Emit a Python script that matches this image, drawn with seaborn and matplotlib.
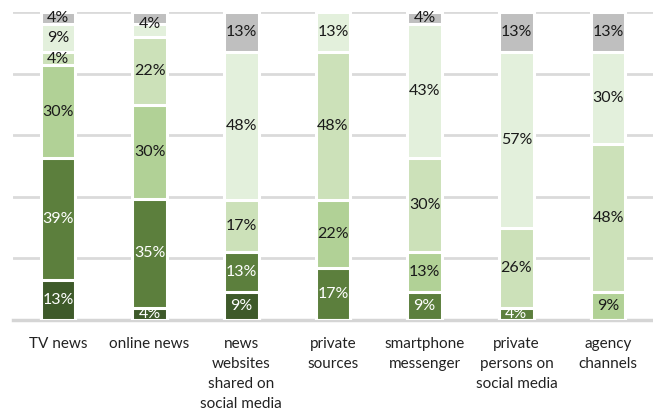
import matplotlib
matplotlib.use("Agg")
import matplotlib.pyplot as plt
import seaborn as sns
import pandas as pd
import numpy as np

categories = ["TV news", "online news", "news\nwebsites\nshared on\nsocial media",
              "private\nsources", "smartphone\nmessenger", "private\npersons on\nsocial media",
              "agency\nchannels"]
levels = ["level1", "level2", "level3", "level4", "level5", "no answer"]
level1 = [13, 4, 9, 0, 0, 0, 0]
level2 = [39, 35, 13, 17, 9, 4, 0]
level3 = [30, 30, 0, 22, 13, 0, 9]
level4 = [4, 22, 17, 48, 30, 26, 48]
level5 = [9, 4, 48, 13, 43, 57, 30]
no_answer = [4, 4, 13, 0, 4, 13, 13]
series = [level1, level2, level3, level4, level5, no_answer]
colors = ["#3e5a2a", "#5c7f3d", "#b1d196", "#cce1b9", "#e3f0dc", "#bfbfbf"]
text_colors = ["white", "white", "#1a1a1a", "#1a1a1a", "#1a1a1a", "#1a1a1a"]

sns.set_theme(style="white")
plt.rcParams["font.family"] = ["Lato", "DejaVu Sans"]

fig = plt.figure(figsize=(6.53, 4.13), dpi=100)
ax = fig.add_axes([13/653, 1 - 320/413, 640/653, 308/413])

vals = np.array(series, dtype=float)
cum = np.cumsum(vals, axis=0)
total = cum[-1]

# draw from the top (total) down so each lower cumulative bar overlays
for i in range(len(levels) - 1, -1, -1):
    df = pd.DataFrame({"cat": categories, "val": cum[i] / total * 100})
    sns.barplot(data=df, x="cat", y="val", color=colors[i], saturation=1,
                width=0.38, edgecolor="white", linewidth=2.2, ax=ax, zorder=3,
                order=categories)

# labels (small crowded labels collapse to one at the shared boundary)
for j in range(len(categories)):
    placed = []
    for i in range(len(levels)):
        v = vals[i, j]
        if v <= 0:
            continue
        top = cum[i, j] / total[j] * 100
        h = v / total[j] * 100
        ymid = top - h / 2
        if placed and v < 6 and vals[placed[-1][0], j] < 6 and abs(ymid - placed[-1][1]) < 6:
            prev = placed[-1][2]
            prev.set_y(top - h)
            continue
        t = ax.text(j, ymid, f"{int(v)}%", ha="center", va="center",
                    color=text_colors[i], fontsize=11.5, zorder=5)
        placed.append((i, ymid, t))

ax.set_ylim(0, 100)
ax.set_xlim(-0.49, 6.49)
ax.set_yticks([0, 20, 40, 60, 80, 100])
ax.set_yticklabels([])
ax.yaxis.grid(True, color="#dadada", linewidth=2)
ax.set_axisbelow(True)
ax.tick_params(axis="y", length=0)
ax.tick_params(axis="x", length=0, pad=12, labelsize=11, labelcolor="#222222")
for lbl in ax.get_xticklabels():
    lbl.set_linespacing(1.55)
    lbl.set_verticalalignment("top")
ax.set_xlabel("")
ax.set_ylabel("")
for s in ["top", "right", "left"]:
    ax.spines[s].set_visible(False)
ax.spines["bottom"].set_color("#d5d5d5")
ax.spines["bottom"].set_linewidth(2.5)

fig.savefig("out.png", dpi=100)
